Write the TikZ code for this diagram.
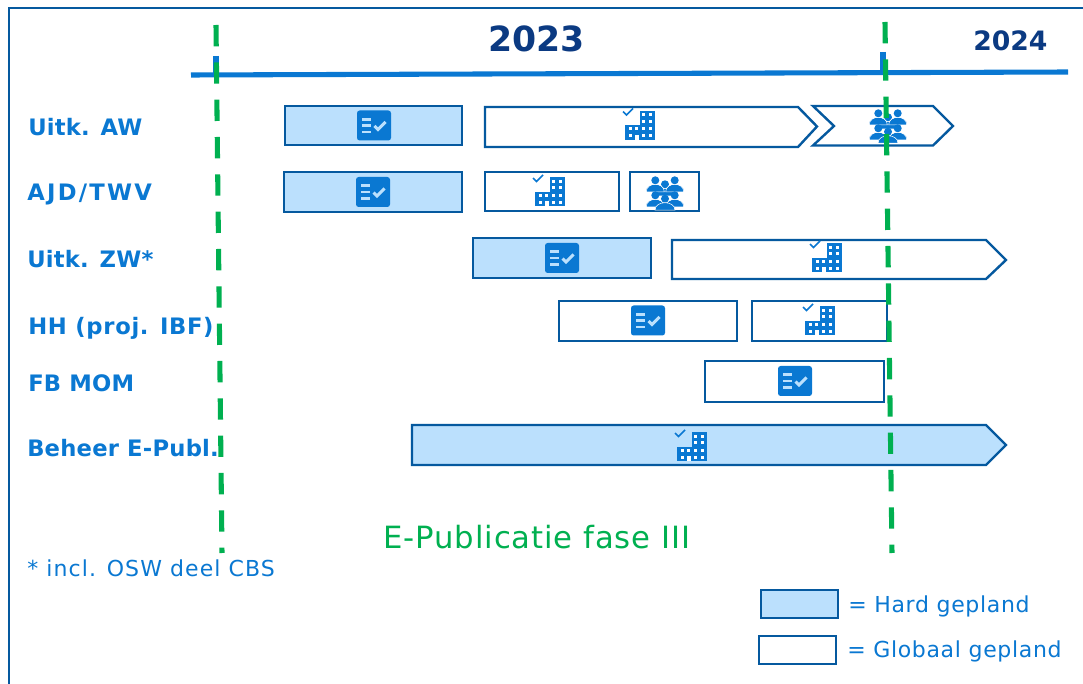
\documentclass[tikz,border=0pt]{standalone}
\usepackage{fontspec}
\setmainfont{DejaVu Sans}
\definecolor{barblue}{HTML}{BBE0FD}
\definecolor{edgeblue}{HTML}{05599F}
\definecolor{textblue}{HTML}{0A78D2}
\definecolor{yearblue}{HTML}{0B3A82}
\definecolor{phasegreen}{HTML}{00B050}
\tikzset{
	hardbar/.style={draw=edgeblue,fill=barblue,line width=1.8pt},
	globalbar/.style={draw=edgeblue,fill=white,line width=1.8pt},
	rowlabel/.style={anchor=base west,inner sep=0pt,text=textblue,font=\bfseries\fontsize{17}{19}\selectfont\addfontfeature{LetterSpace=1}},
	notelabel/.style={anchor=base west,inner sep=0pt,text=textblue,font=\fontsize{16.5}{18}\selectfont\addfontfeature{LetterSpace=3}},
	yearlabel/.style={anchor=base west,inner sep=0pt,text=yearblue,font=\bfseries},
	milestone/.style={draw=phasegreen,line width=3.8pt,dash pattern=on 16pt off 12pt}
}
% icons, given by their centre
\newcommand{\taskicon}[1]{
	\begin{scope}[shift={(#1)}]
		\fill[textblue,rounded corners=2pt] (-17,-15) rectangle (17,15);
		\fill[barblue] (-12,-7.5) rectangle (-3,-4.7);
		\fill[barblue] (-12,-1.2) rectangle (-3,1.5);
		\fill[barblue] (-12,5.2) rectangle (-3,8);
		\draw[barblue,line width=2.3pt] (0.5,0.5) -- (4,4) -- (11.5,-3.5);
	\end{scope}
}
\newcommand{\buildicon}[1]{
	\begin{scope}[shift={(#1)}]
		\draw[textblue,line width=1.1pt] (-17,-14) -- (-13.5,-10.5) -- (-7,-17);
		\fill[textblue] (0,-14.5) rectangle (15,14.5);
		\fill[textblue] (-15,0) rectangle (0,14.5);
		\foreach \wx in {2.2,8.8}
			\foreach \wy in {-12,-5.5,2,9}
				\fill[white] (\wx,\wy) rectangle +(3,2.8);
		\foreach \wx in {-11.5,-5}
			\fill[white] (\wx,2) rectangle +(3,2.8);
		\fill[white] (-11.5,9) rectangle +(3,2.8);
		\fill[white] (-5,9.5) rectangle (-1,14.5);
	\end{scope}
}
\newcommand{\teamperson}[3]{
	\fill[textblue] (#1,#2) circle (4);
	\fill[textblue,draw=white,line width=0.4pt] (#1-#3,#2+11.5) .. controls (#1-#3,#2+1.5) and (#1+#3,#2+1.5) .. (#1+#3,#2+11.5) -- cycle;
}
\newcommand{\teamicon}[1]{
	\begin{scope}[shift={(#1)}]
		\teamperson{0}{-8.7}{10}
		\teamperson{-9.7}{-12.7}{9}
		\teamperson{9.7}{-12.7}{9}
		\teamperson{-9.7}{2.3}{9}
		\teamperson{9.7}{2.3}{9}
		\teamperson{0}{5.7}{10}
	\end{scope}
}
\begin{document}
\begin{tikzpicture}[x=0.75pt,y=-0.75pt,line join=miter]
	\useasboundingbox (0,0) rectangle (1083,684);
	\fill[white] (0,0) rectangle (1083,684);
	\draw[edgeblue,line width=1.5pt] (9,684) -- (9,8.5) -- (1083,8.5);
	% axis
	\draw[textblue,line width=3.8pt] (191,75) -- (1068,72);
	\draw[textblue,line width=4.5pt] (216,56) -- (216,75);
	\draw[textblue,line width=4.5pt] (883,52) -- (883,72);
	\node[yearlabel,font=\bfseries\fontsize{26}{28}\selectfont] (year1) at (488,52) {2023};
	\node[yearlabel,font=\bfseries\fontsize{20}{22}\selectfont] (year2) at (973,51) {2024};
	% row labels
	\node[rowlabel] (aw) at (28,136) {Uitk. AW};
	\node[rowlabel] (ajd) at (27,201) {\addfontfeature{LetterSpace=10}AJD/TWV};
	\node[rowlabel] (zw) at (27,268) {Uitk. ZW*};
	\node[rowlabel] (hh) at (28,335) {\addfontfeature{LetterSpace=3}HH (proj. IBF)};
	\node[rowlabel] (mom) at (28,392) {FB MOM};
	\node[rowlabel] (epubl) at (27,457) {Beheer E-Publ.};
	% row 1
	\draw[hardbar] (285,106) rectangle (462,145);
	\draw[globalbar] (485,107) -- (798,107) -- (817,126.5) -- (798,147) -- (485,147) -- cycle;
	\draw[globalbar] (813,106) -- (933,106) -- (953,126) -- (933,145.5) -- (813,145.5) -- (834,126) -- cycle;
	\taskicon{374,125.5}
	\buildicon{640,125.5}
	\teamicon{888,126}
	% row 2
	\draw[hardbar] (284,172) rectangle (462,212);
	\draw[globalbar] (485,172) rectangle (619,211);
	\draw[globalbar] (630,172) rectangle (699,211);
	\taskicon{373,192}
	\buildicon{550,192}
	\teamicon{665,193}
	% row 3
	\draw[hardbar] (473,238) rectangle (651,278);
	\draw[globalbar] (672,240) -- (986,240) -- (1006,260) -- (986,279) -- (672,279) -- cycle;
	\taskicon{562,258}
	\buildicon{827,258}
	% row 4
	\draw[globalbar] (559,301) rectangle (737,341);
	\draw[globalbar] (752,301) rectangle (887,341);
	\taskicon{648,320.5}
	\buildicon{820,321}
	% row 5
	\draw[globalbar] (705,361) rectangle (884,402);
	\taskicon{795,381}
	% row 6
	\draw[hardbar] (412,425) -- (986,425) -- (1006,445) -- (986,465) -- (412,465) -- cycle;
	\buildicon{692,447}
	% milestones
	\draw[milestone] (216,25) -- (222,553);
	\draw[milestone] (885,22) -- (892,553);
	% notes and legend
	\node[anchor=base west,inner sep=0pt,text=phasegreen,font=\fontsize{23}{25}\selectfont\addfontfeature{LetterSpace=3}] (phase) at (383,548) {E-Publicatie fase III};
	\node[notelabel] (note) at (27,576) {\addfontfeature{LetterSpace=5}* incl. OSW deel CBS};
	\draw[hardbar] (761,590) rectangle (838,618);
	\draw[globalbar] (759,636) rectangle (836,664);
	\node[notelabel] (hard) at (848,612) {= Hard gepland};
	\node[notelabel] (global) at (847,657) {= Globaal gepland};
\end{tikzpicture}
\end{document}
